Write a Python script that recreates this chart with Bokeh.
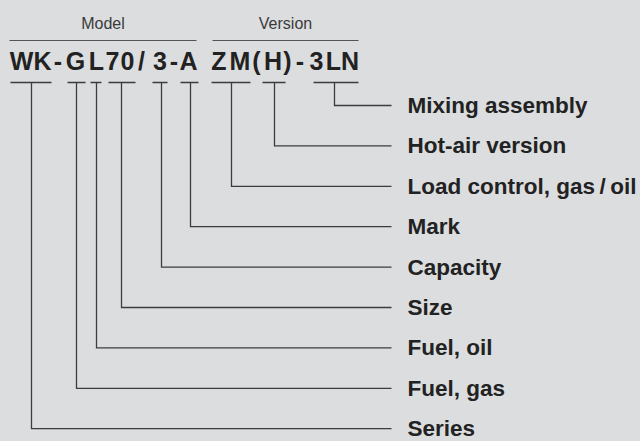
from bokeh.plotting import figure
from bokeh.models import Range1d, ColumnDataSource
from bokeh.core.properties import value
from bokeh.embed import file_html
from bokeh.resources import INLINE

# ---- data -------------------------------------------------------------
code_chars = ["W", "K", "-", "G", "L", "7", "0", "/", "3", "-", "A",
              "Z", "M", "(", "H", ")", "-", "3", "L", "N"]
segments = ["WK", "G", "L", "70", "3", "A", "ZM", "H", "3LN"]
segment_labels = ["Series", "Fuel, gas", "Fuel, oil", "Size", "Capacity",
                  "Mark", "Load control, gas\u2009/\u2009oil",
                  "Hot-air version", "Mixing assembly"]
group_titles = ["Model", "Version"]

# ---- layout (screen-pixel positions) ----------------------------------
char_x = [21, 42, 57.5, 75, 96, 112, 127, 141, 159.5, 173.5, 188,
          218.5, 239.5, 256, 272.5, 287, 299.5, 316, 333, 349.5]
seg_x0 = [10, 67, 90, 108, 152, 180, 211, 262, 313]
seg_x1 = [51, 85, 101, 135, 167, 198, 250, 285, 358]
stem_x = [31, 76, 96, 121, 161, 190, 231, 274, 334]
group_x0 = [9, 212]
group_x1 = [196, 358]

BG = "#dcdddf"
INK = "#222222"
LINE = "#3c3c3c"
FONT = "Liberation Sans"

UNDER_Y = 82
CODE_BASE = 60
ROW_TOP = 105
ROW_STEP = 40.4
LINE_END = 391
LABEL_X = 407
GROUP_LINE_Y = 40
GROUP_BASE = 23

n = len(segments)
row_y = [ROW_TOP + (n - 1 - i) * ROW_STEP for i in range(n)]

p = figure(width=640, height=441, output_backend="svg", toolbar_location=None,
           x_range=Range1d(0, 640), y_range=Range1d(441, 0),
           min_border=0, outline_line_color=None)
p.axis.visible = False
p.grid.visible = False
p.background_fill_color = BG
p.border_fill_color = BG

# group titles and their rules
gsrc = ColumnDataSource(dict(
    x0=group_x0, x1=group_x1, y=[GROUP_LINE_Y] * 2,
    xc=[(a + b) / 2 for a, b in zip(group_x0, group_x1)],
    yt=[GROUP_BASE] * 2, t=group_titles))
p.segment(x0="x0", y0="y", x1="x1", y1="y", source=gsrc,
          line_color="#555555", line_width=1.2)
p.text(x="xc", y="yt", text="t", source=gsrc, text_font=value(FONT),
       text_font_size="16px", text_color="#3a3a3a", text_align="center",
       text_baseline="alphabetic")

# code characters
csrc = ColumnDataSource(dict(x=char_x, y=[CODE_BASE] * len(code_chars),
                             t=code_chars))
p.text(x="x", y="y", text="t", source=csrc, text_font=value(FONT),
       text_font_style="bold", text_font_size="25px", text_color=INK,
       text_align="center", text_baseline="alphabetic")

# underlines
usrc = ColumnDataSource(dict(x0=seg_x0, x1=seg_x1, y=[UNDER_Y] * n))
p.segment(x0="x0", y0="y", x1="x1", y1="y", source=usrc,
          line_color=LINE, line_width=1.3)

# leader lines
xs = [[sx, sx, LINE_END] for sx in stem_x]
ys = [[UNDER_Y, ry, ry] for ry in row_y]
p.multi_line(xs=xs, ys=ys, line_color=LINE, line_width=1.3,
             line_join="miter")

# labels
lsrc = ColumnDataSource(dict(x=[LABEL_X] * n, y=row_y, t=segment_labels))
p.text(x="x", y="y", text="t", source=lsrc, text_font=value(FONT),
       text_font_style="bold", text_font_size="22.5px", text_color=INK,
       text_align="left", text_baseline="alphabetic", y_offset=0)

template = """{% block postamble %}<style>html, body { margin: 0 !important; padding: 0 !important; background: #dcdddf; overflow: hidden; }</style>{% endblock %}"""
open("out.html", "w").write(file_html(p, INLINE, template=template))
